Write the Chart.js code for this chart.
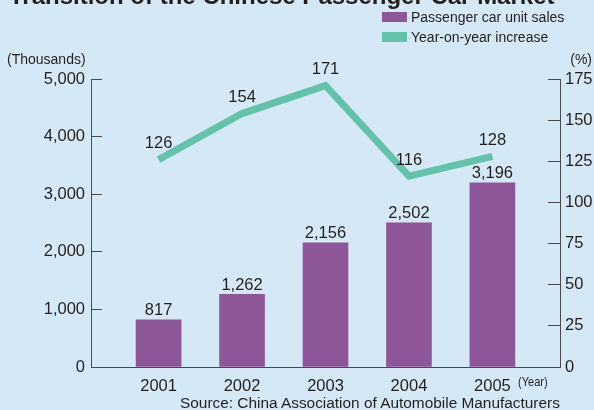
<!DOCTYPE html>
<html>
<head>
<meta charset="utf-8">
<script src="https://cdn.jsdelivr.net/npm/chart.js@4"></script>
<style>
    body {
        margin: 0;
        background: #d5e8f5;
        font-family: "Liberation Sans", Arial, sans-serif;
        color: #231f20;
    }

    #wrap {
        position: relative;
        width: 594px;
        height: 410px;
        overflow: hidden;
    }

    #wrap canvas {
        position: absolute;
        left: 0;
        top: 0;
    }

    .txt {
        position: absolute;
        white-space: nowrap;
        line-height: 1;
    }

    .box {
        position: absolute;
        width: 25px;
        height: 10px;
    }
</style>
</head>
<body>
<div id="wrap">
    <canvas id="carChart" width="594" height="410"></canvas>

    <div class="txt" style="left:9px; top:-16px; font-size:24px; font-weight:bold;">Transition of the Chinese Passenger Car Market</div>

    <div class="box" style="left:382px; top:12px; background:#8e5699;"></div>
    <div class="txt" style="left:411px; top:10px; font-size:14px;">Passenger car unit sales</div>
    <div class="box" style="left:382px; top:32px; background:#63c2aa;"></div>
    <div class="txt" style="left:411px; top:30px; font-size:14px;">Year-on-year increase</div>

    <div class="txt" style="left:7px; top:52px; font-size:14px;">(Thousands)</div>
    <div class="txt" style="right:2px; top:52px; font-size:14px;">(%)</div>
    <div class="txt" style="left:518px; top:375px; font-size:13px; transform:scaleX(0.85); transform-origin:left center;">(Year)</div>
    <div class="txt" style="left:180px; top:395px; font-size:15.4px;">Source: China Association of Automobile Manufacturers</div>
</div>

<script>
const years = ["2001", "2002", "2003", "2004", "2005"];
const unitSales = [817, 1262, 2156, 2502, 3196];
const yoyIncrease = [126, 154, 171, 116, 128];

const purple = "#8e5699";
const teal = "#63c2aa";
const axisColor = "#4a4a4a";
const textColor = "#231f20";

// value labels above bars and line points
const valueLabels = {
    id: "valueLabels",
    afterDatasetsDraw(chart) {
        const ctx = chart.ctx;
        ctx.save();
        ctx.font = "16.5px 'Liberation Sans', Arial, sans-serif";
        ctx.fillStyle = textColor;
        ctx.textAlign = "center";
        ctx.textBaseline = "middle";

        chart.getDatasetMeta(0).data.forEach((bar, i) => {
            ctx.fillText(unitSales[i].toLocaleString("en-US"), bar.x, bar.y - 9);
        });

        chart.getDatasetMeta(1).data.forEach((pt, i) => {
            ctx.fillText(String(yoyIncrease[i]), pt.x, pt.y - 16);
        });

        ctx.restore();
    }
};

new Chart(document.getElementById("carChart"), {
    type: "bar",

    data: {
        datasets: [
            {
                type: "bar",
                label: "Passenger car unit sales",
                data: unitSales.map((v, i) => ({ x: i + 1, y: v })),
                backgroundColor: purple,
                borderWidth: 0,
                barThickness: 45,
                xAxisID: "x",
                yAxisID: "ySales",
                order: 2
            },
            {
                type: "line",
                label: "Year-on-year increase",
                data: yoyIncrease.map((v, i) => ({ x: i + 1, y: v })),
                borderColor: teal,
                borderWidth: 7,
                borderCapStyle: "butt",
                borderJoinStyle: "miter",
                pointRadius: 0,
                tension: 0,
                fill: false,
                xAxisID: "x",
                yAxisID: "yPct",
                order: 1
            }
        ]
    },

    options: {
        responsive: false,
        animation: false,
        layout: {
            padding: { top: 79, left: 0, right: 0, bottom: 0 }
        },
        plugins: {
            legend: { display: false },
            tooltip: { enabled: false }
        },
        scales: {
            x: {
                type: "linear",
                position: "bottom",
                offset: false,
                min: 0.19,
                max: 5.81,
                afterBuildTicks(scale) {
                    scale.ticks = years.map((_, i) => ({ value: i + 1 }));
                },
                afterFit(scale) {
                    scale.height = 43;
                },
                grid: { display: false, offset: false },
                border: { display: true, color: axisColor, width: 1 },
                ticks: {
                    padding: 2,
                    color: textColor,
                    font: { size: 16.5, family: "'Liberation Sans', Arial, sans-serif" },
                    callback: (v) => years[v - 1]
                }
            },
            ySales: {
                type: "linear",
                position: "left",
                min: 0,
                max: 5000,
                afterFit(scale) {
                    scale.width = 91;
                },
                grid: {
                    drawOnChartArea: false,
                    drawTicks: true,
                    tickLength: -11,
                    color: axisColor
                },
                border: { display: true, color: axisColor, width: 1 },
                ticks: {
                    stepSize: 1000,
                    padding: 17,
                    color: textColor,
                    font: { size: 16.5, family: "'Liberation Sans', Arial, sans-serif" },
                    callback: (v) => v.toLocaleString("en-US")
                }
            },
            yPct: {
                type: "linear",
                position: "right",
                min: 0,
                max: 175,
                afterFit(scale) {
                    scale.width = 34;
                },
                grid: {
                    drawOnChartArea: false,
                    drawTicks: true,
                    tickLength: -12,
                    color: axisColor
                },
                border: { display: true, color: axisColor, width: 1 },
                ticks: {
                    stepSize: 25,
                    padding: 17,
                    color: textColor,
                    font: { size: 16.5, family: "'Liberation Sans', Arial, sans-serif" }
                }
            }
        }
    },

    plugins: [valueLabels]
});
</script>
</body>
</html>
